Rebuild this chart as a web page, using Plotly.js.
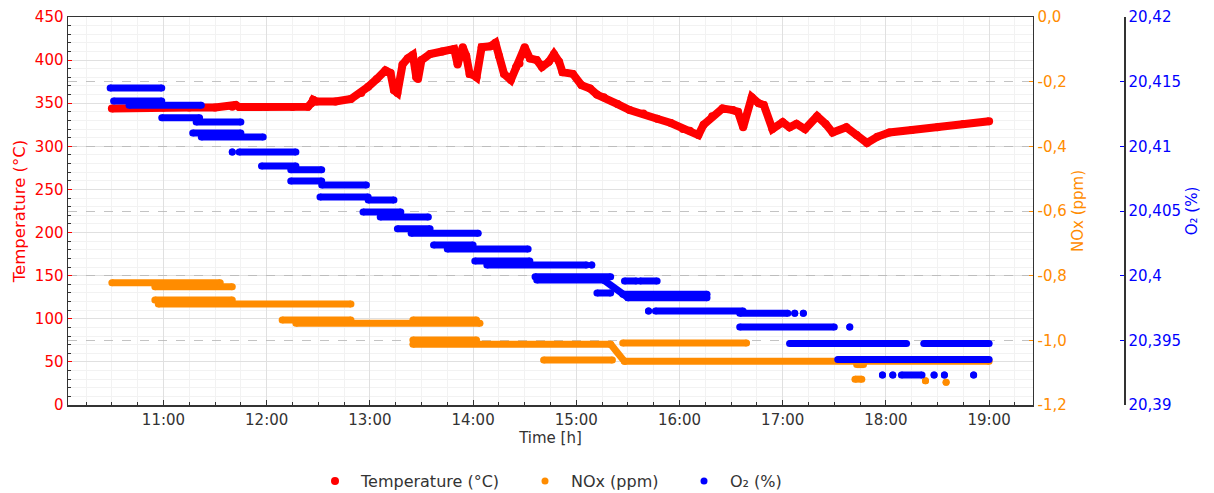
<!DOCTYPE html>
<html>
<head>
<meta charset="utf-8">
<script src="https://cdn.plot.ly/plotly-3.0.1.min.js"></script>
<style>html,body{margin:0;padding:0;background:#fff;}#chart{width:1214px;height:493px;}</style>
</head>
<body>
<div id="chart"></div>
<script>
// ---- Temperature (°C) ----
const tempTime = ["10:30","10:45","11:00","11:15","11:30","11:40","11:42","11:44","12:00","12:15","12:24","12:26","12:27","12:29","12:40","12:49","12:55","12:59","13:04","13:09","13:12","13:14","13:16","13:19","13:22","13:25","13:27","13:28","13:30","13:35","13:42","13:49","13:51","13:54","13:56","13:58","14:00","14:02","14:05","14:10","14:13","14:15","14:18","14:22","14:25","14:27","14:30","14:33","14:37","14:40","14:44","14:47","14:50","14:52","14:58","15:03","15:08","15:12","15:16","15:24","15:31","15:39","15:47","15:55","16:02","16:06","16:11","16:14","16:19","16:25","16:31","16:34","16:37","16:42","16:46","16:49","16:54","17:00","17:04","17:08","17:13","17:20","17:25","17:29","17:37","17:43","17:49","17:55","18:02","18:15","18:30","18:45","19:00"];
const tempValue = [344,345,345,345,345,346,348,345.5,345.5,345.5,346,350,354,352,352,355,362,369,378,388,385,365,362,395,402,406,380,378,400,407,410,413,395,415,405,384,383,380,415,416,420,405,384,377,392,396,415,402,400,392,398,407,398,386,384,371,367,360,357,349,342,338,332,327,320,318,313,325,335,344,342,340,322,357,350,348,320,328,322,326,320,335,326,316,322,313,304,311,316,319,322,326,329];

// ---- NOx (ppm) runs: start, end, value at start, value at end ----
const noxStart = ["10:30","10:55","10:55","10:57","12:09","13:25","12:17","13:25","13:25","15:20","14:41","15:27","15:28","17:42","18:23","18:35","17:43"];
const noxEnd   = ["11:33","11:40","11:40","12:49","12:49","14:02","14:04","14:02","15:20","15:28","15:21","16:39","19:00","17:46","18:23","18:35","17:47"];
const noxFrom  = [-0.822,-0.834,-0.875,-0.888,-0.937,-0.937,-0.947,-0.999,-1.012,-1.012,-1.061,-1.008,-1.065,-1.12,-1.125,-1.13,-1.075];
const noxTo    = [-0.822,-0.834,-0.875,-0.888,-0.937,-0.937,-0.947,-0.999,-1.012,-1.065,-1.061,-1.008,-1.065,-1.12,-1.125,-1.13,-1.075];

// ---- O2 (%) runs ----
const o2Start = ["10:29","10:31","10:40","10:59","11:19","11:17","11:22","11:40","11:44","11:57","12:14","12:14","12:32","12:31","12:59","12:56","13:06","13:16","13:24","13:37","13:45","14:01","14:08","15:09","14:36","14:37","15:16","15:12","15:28","15:37","15:27","15:30","15:42","15:46","16:35","17:07","17:12","16:35","17:39","17:04","18:22","17:32","17:58","18:04","18:09","18:28","18:34","18:51"];
const o2End   = ["10:59","10:59","11:22","11:21","11:45","11:45","11:58","11:40","12:17","12:17","12:32","12:32","12:58","12:59","13:14","13:18","13:34","13:35","14:03","14:00","14:32","14:33","15:06","15:09","15:20","15:16","15:30","15:20","15:35","15:47","16:16","16:16","15:42","16:37","17:03","17:07","17:12","17:30","17:39","18:12","19:00","19:00","17:58","18:04","18:21","18:28","18:34","18:51"];
const o2From  = [20.41451,20.4135,20.41317,20.41221,20.41188,20.41103,20.41072,20.40956,20.40956,20.40848,20.40819,20.40732,20.40701,20.40608,20.40585,20.40492,20.40454,20.40363,20.40327,20.40237,20.40206,20.40113,20.40082,20.40082,20.39992,20.39966,20.39966,20.39866,20.39959,20.39959,20.39856,20.3983,20.39727,20.39727,20.39709,20.39709,20.39709,20.39603,20.39603,20.39475,20.39475,20.39352,20.39232,20.39232,20.39232,20.39232,20.39232,20.39232];
const o2To    = [20.41451,20.4135,20.41317,20.41221,20.41188,20.41103,20.41072,20.40956,20.40956,20.40848,20.40819,20.40732,20.40701,20.40608,20.40585,20.40492,20.40454,20.40363,20.40327,20.40237,20.40206,20.40113,20.40082,20.40082,20.39992,20.39966,20.3983,20.39866,20.39959,20.39959,20.39856,20.3983,20.39727,20.39727,20.39709,20.39709,20.39709,20.39603,20.39603,20.39475,20.39475,20.39352,20.39232,20.39232,20.39232,20.39232,20.39232,20.39232];

// ---- tick labels ----
const noxTickVals = [0,-0.2,-0.4,-0.6,-0.8,-1.0,-1.2];
const noxTickText = ["0,0","-0,2","-0,4","-0,6","-0,8","-1,0","-1,2"];
const o2TickVals = [20.42,20.415,20.41,20.405,20.40,20.395,20.39];
const o2TickText = ["20,42","20,415","20,41","20,405","20,4","20,395","20,39"];

const DAY = "2024-01-01 ";
const T = s => DAY + s;

function runs(st, en, v0, v1) {
  const lx = [], ly = [], px = [], py = [];
  for (let i = 0; i < st.length; i++) {
    lx.push(T(st[i]), T(en[i]), null);
    ly.push(v0[i], v1[i], null);
    px.push(T(st[i]), T(en[i]));
    py.push(v0[i], v1[i]);
  }
  return {lx, ly, px, py};
}

const RED = "#ff0000", ORANGE = "#ff8c00", BLUE = "#0000ff";
const nox = runs(noxStart, noxEnd, noxFrom, noxTo);
const o2 = runs(o2Start, o2End, o2From, o2To);
const tx = tempTime.map(T);
const FONT = "DejaVu Sans";

const traces = [
  {x: tx, y: tempValue, mode: "lines", line: {color: RED, width: 8}, showlegend: false, hoverinfo: "skip", yaxis: "y"},
  {x: tx, y: tempValue, mode: "markers", marker: {color: RED, size: 8}, name: "Temperature (°C)", yaxis: "y", legend: "legend"},
  {x: nox.lx, y: nox.ly, mode: "lines", line: {color: ORANGE, width: 7}, showlegend: false, hoverinfo: "skip", yaxis: "y2"},
  {x: nox.px, y: nox.py, mode: "markers", marker: {color: ORANGE, size: 7}, name: "NOx (ppm)", yaxis: "y2", legend: "legend2"},
  {x: o2.lx, y: o2.ly, mode: "lines", line: {color: BLUE, width: 7}, showlegend: false, hoverinfo: "skip", yaxis: "y3"},
  {x: o2.px, y: o2.py, mode: "markers", marker: {color: BLUE, size: 7}, name: "O₂ (%)", yaxis: "y3", legend: "legend3"}
];

function legendAt(px) {
  return {orientation: "h", xref: "container", yref: "container", x: px / 1214, xanchor: "left",
          y: 1 - 481 / 493, yanchor: "middle", itemwidth: 42, bgcolor: "rgba(0,0,0,0)",
          font: {family: FONT, size: 16, color: "#333333"}};
}

const layout = {
  width: 1214, height: 493,
  margin: {l: 68, r: 90, t: 17, b: 88},
  paper_bgcolor: "#ffffff", plot_bgcolor: "#ffffff",
  font: {family: FONT, size: 15, color: "#333333"},
  showlegend: true,
  legend: legendAt(309),
  legend2: legendAt(519),
  legend3: legendAt(678),
  xaxis: {
    type: "date", domain: [0, 0.9138], automargin: false,
    range: [T("10:04:30"), T("19:25:30")],
    tick0: T("00:00"), dtick: 3600000, tickformat: "%H:%M",
    ticks: "inside", ticklen: 5, tickcolor: "#333333",
    showline: true, linecolor: "#333333", linewidth: 1.5, mirror: true,
    showgrid: true, gridcolor: "#e0e0e0", gridwidth: 1,
    minor: {dtick: 900000, ticks: "inside", ticklen: 3, tickcolor: "#333333", showgrid: true, gridcolor: "#f2f2f2"},
    zeroline: false,
    tickfont: {family: FONT, size: 15, color: "#333333"},
    title: {text: "Time [h]", font: {family: FONT, size: 15, color: "#333333"}, standoff: 2}
  },
  yaxis: {
    range: [0, 450], dtick: 50, tick0: 0, automargin: false,
    ticks: "inside", ticklen: 4, tickcolor: RED,
    showline: true, linecolor: "#333333", linewidth: 1.5,
    showgrid: true, gridcolor: "#e0e0e0",
    minor: {dtick: 10, ticks: "inside", ticklen: 3, tickcolor: "#333333", showgrid: true, gridcolor: "#f2f2f2"},
    zeroline: false,
    tickfont: {family: FONT, size: 15, color: RED},
    title: {text: "Temperature (°C)", font: {family: FONT, size: 16.5, color: RED}}
  },
  yaxis2: {
    overlaying: "y", side: "right", anchor: "x", automargin: false,
    range: [-1.2, 0], tickvals: noxTickVals, ticktext: noxTickText,
    ticks: "inside", ticklen: 4, tickcolor: ORANGE,
    showline: true, linecolor: "#333333", linewidth: 1.5,
    showgrid: true, gridcolor: "#b4b4b4", griddash: "dash", gridwidth: 0.8,
    zeroline: false,
    tickfont: {family: FONT, size: 15, color: ORANGE},
    title: {text: "NOx (ppm)", font: {family: FONT, size: 15, color: ORANGE}}
  },
  yaxis3: {
    overlaying: "y", side: "right", anchor: "free", position: 1, automargin: false,
    range: [20.39, 20.42], tickvals: o2TickVals, ticktext: o2TickText,
    ticks: "inside", ticklen: 4, tickcolor: BLUE,
    showline: true, linecolor: "#333333", linewidth: 1.5,
    showgrid: false, zeroline: false,
    tickfont: {family: FONT, size: 15, color: BLUE},
    title: {text: "O₂ (%)", font: {family: FONT, size: 15, color: BLUE}}
  }
};

Plotly.newPlot("chart", traces, layout, {displayModeBar: false, staticPlot: true});
</script>
</body>
</html>
